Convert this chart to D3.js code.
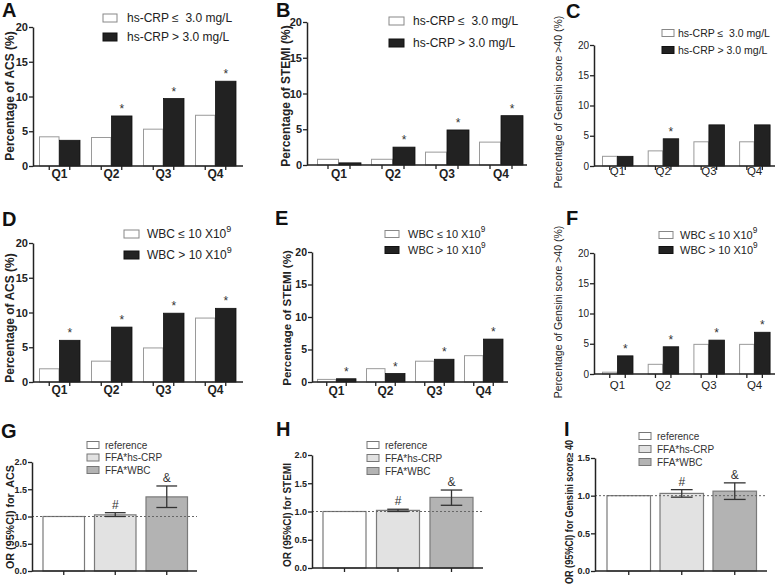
<!DOCTYPE html>
<html><head><meta charset="utf-8">
<script src="https://cdn.jsdelivr.net/npm/d3@7"></script>
<style>body{margin:0;background:#fff}svg{display:block;font-family:"Liberation Sans",Arial,sans-serif}text{white-space:pre}</style>
</head><body><svg id="c" width="778" height="588"></svg>
<script>
// ---------- DATA ----------
const quartiles = ["Q1","Q2","Q3","Q4"];
const pctTicks = [0,5,10,15,20];
const crpLegend = ["hs-CRP \u2264  3.0 mg/L","hs-CRP > 3.0 mg/L"];
const wbcLegend = [["WBC \u2264 10 X10","9"],["WBC > 10 X10","9"]];

const acsCrpLow  = [4.2, 4.1, 5.3, 7.3];
const acsCrpHigh = [3.7, 7.2, 9.7, 12.2];
const acsCrpStar = [false, true, true, true];

const stemiCrpLow  = [0.8, 0.8, 1.8, 3.2];
const stemiCrpHigh = [0.3, 2.5, 4.9, 6.9];
const stemiCrpStar = [false, true, true, true];

const gensCrpLow  = [1.6, 2.5, 4.0, 4.0];
const gensCrpHigh = [1.6, 4.5, 6.8, 6.8];
const gensCrpStar = [false, true, false, false];

const acsWbcLow  = [1.9, 3.0, 4.9, 9.2];
const acsWbcHigh = [6.0, 7.9, 9.9, 10.6];
const acsWbcStar = [true, true, true, true];

const stemiWbcLow  = [0.4, 2.05, 3.2, 4.05];
const stemiWbcHigh = [0.5, 1.3, 3.5, 6.6];
const stemiWbcStar = [true, true, true, true];

const gensWbcLow  = [0.3, 1.6, 4.9, 4.9];
const gensWbcHigh = [3.0, 4.5, 5.6, 6.9];
const gensWbcStar = [true, true, true, true];

const orGroups = ["reference","FFA*hs-CRP","FFA*WBC"];
const orMarks  = ["", "#", "&"];
const orTicks2  = [0, 0.5, 1.0, 1.5, 2.0];
const orTicks15 = [0, 0.5, 1.0, 1.5];

const orAcs    = [1.00, 1.03, 1.36];
const orAcsLo  = [null, 1.00, 1.165];
const orAcsHi  = [null, 1.07, 1.56];

const orStemi   = [1.00, 1.02, 1.25];
const orStemiLo = [null, 1.00, 1.11];
const orStemiHi = [null, 1.04, 1.38];

const orGens   = [1.00, 1.03, 1.06];
const orGensLo = [null, 0.98, 0.95];
const orGensHi = [null, 1.08, 1.17];

// ---------- DRAWING ----------
const svg = d3.select("#c");
const AX = "#222";

function letter(t, x, y){
  svg.append("text").attr("x",x).attr("y",y).text(t)
    .attr("font-size",20).attr("font-weight","bold").attr("fill","#111");
}
function yTitle(t, x, y, size, weight, len){
  const el = svg.append("text").attr("transform",`translate(${x},${y}) rotate(-90)`)
    .attr("text-anchor","middle").attr("dominant-baseline","central")
    .attr("font-size",size).attr("font-weight",weight).attr("fill","#222").text(t);
  if (len) el.attr("textLength",len).attr("lengthAdjust","spacingAndGlyphs");
}

function grouped(p){
  const g = svg.append("g");
  const y = d3.scaleLinear().domain([0,20]).range([p.yb, p.yt]);
  const gap = p.gStep - p.gW;
  const x0 = p.gStart - gap/2;
  const x = d3.scaleBand().domain(quartiles)
    .range([x0, x0 + 4*p.gStep]).paddingInner(gap/p.gStep).paddingOuter(gap/p.gStep/2);
  const xs = d3.scaleBand().domain(["low","high"]).range([0, x.bandwidth()]);
  const rows = quartiles.map((q,i)=>({q, low:p.low[i], high:p.high[i], star:p.star[i]}));

  g.selectAll("rect.low").data(rows).join("rect")
    .attr("x", d=>x(d.q)+xs("low")+0.5).attr("y", d=>y(d.low))
    .attr("width", xs.bandwidth()-1).attr("height", d=>y(0)-y(d.low))
    .attr("fill","#fff").attr("stroke","#9a9a9a").attr("stroke-width",1);
  g.selectAll("rect.high").data(rows).join("rect")
    .attr("x", d=>x(d.q)+xs("high")).attr("y", d=>y(d.high))
    .attr("width", xs.bandwidth()).attr("height", d=>y(0)-y(d.high))
    .attr("fill","#222").attr("stroke","#111").attr("stroke-width",0.8);
  g.selectAll("text.star").data(rows.filter(d=>d.star)).join("text")
    .attr("x", d=>x(d.q)+xs("high")+xs.bandwidth()/2).attr("y", d=>y(d.high)-3)
    .attr("text-anchor","middle").attr("font-size",12).attr("fill","#333").text("*");

  // y axis
  const ya = g.append("g").attr("transform",`translate(${p.ax},0)`)
    .call(d3.axisLeft(y).tickValues(pctTicks).tickSize(4).tickSizeOuter(0).tickFormat(d3.format("d")));
  ya.select(".domain").attr("stroke",AX).attr("stroke-width",1.5);
  ya.selectAll(".tick line").attr("stroke",AX).attr("stroke-width",1.3);
  ya.selectAll(".tick text").attr("font-size",p.tickSize).attr("font-weight",p.weight)
    .attr("fill","#222").attr("font-family",null).attr("x",-5);

  // x axis
  g.append("line").attr("x1",p.ax).attr("x2",p.axEnd).attr("y1",p.yb).attr("y2",p.yb)
    .attr("stroke",AX).attr("stroke-width",1.5);
  const tickPos = [];
  quartiles.forEach(q=>["low","high"].forEach(s=>tickPos.push(x(q)+xs(s)+xs.bandwidth()/2)));
  g.selectAll("line.xt").data(tickPos).join("line")
    .attr("x1",d=>d).attr("x2",d=>d).attr("y1",p.yb).attr("y2",p.yb+4)
    .attr("stroke",AX).attr("stroke-width",1.3);
  g.selectAll("text.cat").data(quartiles).join("text")
    .attr("x",d=>x(d)+x.bandwidth()/2).attr("y",p.catY).attr("text-anchor","middle")
    .attr("font-size",p.catSize).attr("font-weight",p.weight).attr("fill","#222").text(d=>d);

  // legend
  const L = p.leg;
  [0,1].forEach(i=>{
    const cy = L.ys[i];
    g.append("rect").attr("x",L.x).attr("y",cy-L.bh/2).attr("width",L.bw).attr("height",L.bh)
      .attr("fill", i ? "#222":"#fff").attr("stroke", i ? "#111":"#888");
    const t = g.append("text").attr("x",L.tx).attr("y",cy).attr("dominant-baseline","central")
      .attr("font-size",L.size).attr("fill","#222");
    const lab = L.labels[i];
    if (Array.isArray(lab)){
      t.append("tspan").text(lab[0]);
      t.append("tspan").attr("font-size",L.size*0.75).attr("dy",-5).text(lab[1]);
    } else t.text(lab);
  });
  yTitle(p.title, p.tx, p.ty, p.titleSize, p.weight);
  letter(p.letter, p.lx, p.ly);
}

function orPanel(p){
  const g = svg.append("g");
  const y = d3.scaleLinear().domain([0,p.ymax]).range([p.yb, p.yt]);
  const gap = p.gStep - p.gW;
  const x0 = p.gStart - gap/2;
  const x = d3.scaleBand().domain(orGroups)
    .range([x0, x0 + 3*p.gStep]).paddingInner(gap/p.gStep).paddingOuter(gap/p.gStep/2);
  const fills = ["#ffffff","#e2e2e2","#b3b3b3"];
  const rows = orGroups.map((k,i)=>({k, v:p.v[i], lo:p.lo[i], hi:p.hi[i], mark:orMarks[i], fill:fills[i]}));

  g.selectAll("rect.b").data(rows).join("rect")
    .attr("x",d=>x(d.k)).attr("y",d=>y(d.v)).attr("width",x.bandwidth()).attr("height",d=>y(0)-y(d.v))
    .attr("fill",d=>d.fill).attr("stroke","#7a7a7a").attr("stroke-width",1.2);

  // dashed reference line at OR = 1
  g.append("line").attr("x1",p.ax).attr("x2",p.axEnd).attr("y1",y(1)).attr("y2",y(1))
    .attr("stroke","#666").attr("stroke-width",1).attr("stroke-dasharray","2,2");

  const eb = rows.filter(d=>d.hi!=null);
  const cw = x.bandwidth()*0.25;
  eb.forEach(d=>{
    const cx = x(d.k)+x.bandwidth()/2;
    g.append("line").attr("x1",cx).attr("x2",cx).attr("y1",y(d.lo)).attr("y2",y(d.hi)).attr("stroke","#333").attr("stroke-width",1.3);
    [d.lo,d.hi].forEach(v=>g.append("line").attr("x1",cx-cw).attr("x2",cx+cw).attr("y1",y(v)).attr("y2",y(v)).attr("stroke","#333").attr("stroke-width",1.3));
    g.append("text").attr("x",cx).attr("y",y(d.hi)-4).attr("text-anchor","middle")
      .attr("font-size",12).attr("fill","#333").text(d.mark);
  });

  const ya = g.append("g").attr("transform",`translate(${p.ax},0)`)
    .call(d3.axisLeft(y).tickValues(p.ticks).tickSize(4).tickSizeOuter(0).tickFormat(d3.format(".1f")));
  ya.select(".domain").attr("stroke",AX).attr("stroke-width",1.5);
  ya.selectAll(".tick line").attr("stroke",AX).attr("stroke-width",1.3);
  ya.selectAll(".tick text").attr("font-size",9).attr("font-weight","bold").attr("fill","#222").attr("font-family",null).attr("x",-5);

  g.append("line").attr("x1",p.ax).attr("x2",p.axEnd).attr("y1",p.yb).attr("y2",p.yb).attr("stroke",AX).attr("stroke-width",1.5);
  g.selectAll("line.xt").data(orGroups).join("line")
    .attr("x1",d=>x(d)+x.bandwidth()/2).attr("x2",d=>x(d)+x.bandwidth()/2)
    .attr("y1",p.yb).attr("y2",p.yb+4).attr("stroke",AX).attr("stroke-width",1.3);

  rows.forEach((d,i)=>{
    const cy = p.legY + i*p.legStep;
    g.append("rect").attr("x",p.legX).attr("y",cy-3.5).attr("width",12).attr("height",7)
      .attr("fill",d.fill).attr("stroke","#777");
    g.append("text").attr("x",p.legX+18).attr("y",cy).attr("dominant-baseline","central")
      .attr("font-size",10).attr("fill","#333").text(d.k);
  });
  yTitle(p.title, p.tx, p.ty, 10, "bold", p.tlen);
  letter(p.letter, p.lx, p.ly);
}

grouped({letter:"A", lx:2, ly:17, ax:33, yb:166, yt:27, gStart:39, gStep:52, gW:41, axEnd:243,
  low:acsCrpLow, high:acsCrpHigh, star:acsCrpStar, title:"Percentage of ACS (%)", tx:10, ty:96,
  titleSize:12, weight:"bold", tickSize:11, catSize:12, catY:178,
  leg:{x:103, ys:[18,37], bw:14, bh:8, tx:127, size:12, labels:crpLegend}});
grouped({letter:"B", lx:276, ly:17, ax:307, yb:165, yt:22, gStart:317, gStep:54, gW:44, axEnd:527,
  low:stemiCrpLow, high:stemiCrpHigh, star:stemiCrpStar, title:"Percentage of STEMI (%)", tx:286, ty:96,
  titleSize:12, weight:"bold", tickSize:11, catSize:12, catY:178,
  leg:{x:389, ys:[21,43], bw:15, bh:8, tx:413, size:12, labels:crpLegend}});
grouped({letter:"C", lx:566, ly:18, ax:594, yb:166, yt:45, gStart:602, gStep:45.7, gW:31, axEnd:775,
  low:gensCrpLow, high:gensCrpHigh, star:gensCrpStar, title:"Percentage of Gensini score >40 (%)", tx:558, ty:102,
  titleSize:10.5, weight:"normal", tickSize:10, catSize:11.5, catY:175,
  leg:{x:662, ys:[33,50], bw:12, bh:7, tx:678, size:10.5, labels:crpLegend}});
grouped({letter:"D", lx:2, ly:226, ax:33, yb:382, yt:243, gStart:39, gStep:52, gW:41, axEnd:243,
  low:acsWbcLow, high:acsWbcHigh, star:acsWbcStar, title:"Percentage of ACS (%)", tx:10, ty:318,
  titleSize:12, weight:"bold", tickSize:11, catSize:12, catY:394,
  leg:{x:124, ys:[234,255], bw:15, bh:8, tx:147, size:12, labels:wbcLegend}});
grouped({letter:"E", lx:275, ly:225, ax:312, yb:382, yt:252, gStart:317, gStep:49, gW:39, axEnd:508,
  low:stemiWbcLow, high:stemiWbcHigh, star:stemiWbcStar, title:"Percentage of STEMI (%)", tx:287, ty:318,
  titleSize:11.5, weight:"bold", tickSize:10.5, catSize:12, catY:395,
  leg:{x:385, ys:[234,250], bw:14, bh:7, tx:408, size:11, labels:wbcLegend}});
grouped({letter:"F", lx:566, ly:225, ax:594, yb:374, yt:253, gStart:602, gStep:45.7, gW:31, axEnd:775,
  low:gensWbcLow, high:gensWbcHigh, star:gensWbcStar, title:"Percentage of Gensini score >40 (%)", tx:558, ty:312,
  titleSize:10.5, weight:"normal", tickSize:10, catSize:11.5, catY:389,
  leg:{x:659, ys:[235,250], bw:14, bh:7, tx:680, size:11, labels:wbcLegend}});

orPanel({letter:"G", lx:1, ly:438, ax:32, yb:571, yt:462, ymax:2, ticks:orTicks2, gStart:43, gStep:51.5, gW:41.5, axEnd:197,
  v:orAcs, lo:orAcsLo, hi:orAcsHi, title:"OR (95%CI) for  ACS", tx:10, ty:517, tlen:104, legX:87, legY:445, legStep:12.5});
orPanel({letter:"H", lx:276, ly:436, ax:312, yb:568, yt:455, ymax:2, ticks:orTicks2, gStart:323, gStep:53.5, gW:43, axEnd:483,
  v:orStemi, lo:orStemiLo, hi:orStemiHi, title:"OR (95%CI) for STEMI", tx:287, ty:515, tlen:104, legX:367, legY:445, legStep:13});
orPanel({letter:"I", lx:564, ly:436, ax:595, yb:571, yt:458, ymax:1.5, ticks:orTicks15, gStart:607, gStep:53, gW:43.5, axEnd:767,
  v:orGens, lo:orGensLo, hi:orGensHi, title:"OR (95%CI) for Gensini score\u2265 40", tx:569, ty:512, tlen:144, legX:639, legY:436, legStep:13});
</script></body></html>
